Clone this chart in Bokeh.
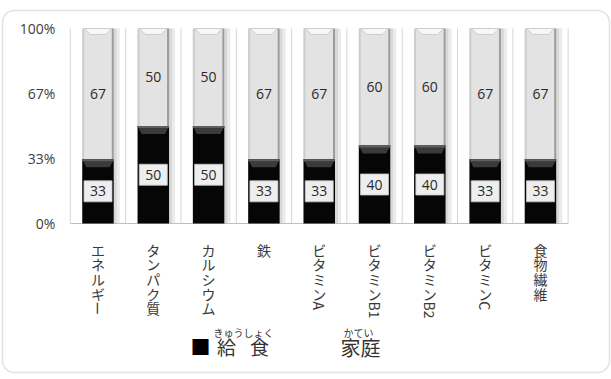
import math
from bokeh.plotting import figure
from bokeh.models import ColumnDataSource, Range1d, BoxAnnotation
from bokeh.core.properties import value
from bokeh.embed import file_html
from bokeh.resources import INLINE

# ---------------- data ----------------
categories = ["エネルギー", "タンパク質", "カルシウム", "鉄", "ビタミンA",
              "ビタミンB1", "ビタミンB2", "ビタミンC", "食物繊維"]
kyushoku = [33, 50, 50, 33, 33, 40, 40, 33, 33]   # 給食
katei = [67, 50, 50, 67, 67, 60, 60, 67, 67]      # 家庭
y_ticks = [0, 100 / 3, 200 / 3, 100]
y_tick_labels = ["0%", "33%", "67%", "100%"]
series_names = ["給食", "家庭"]
series_ruby = ["きゅうしょく", "かてい"]

# ---------------- layout ----------------
W, H = 611, 379
PX0, PXU = 69.84, 55.31   # pixel of x=0, pixels per category
PY0, PYU = 223.0, 1.95    # pixel of y=0, pixels per percent


def dx(px):
    return (px - PX0) / PXU


def dy(py):
    return (PY0 - py) / PYU


XPX = 1 / PXU   # one pixel in x data units
YPX = 1 / PYU   # one pixel in y data units

p = figure(width=W, height=H, x_range=Range1d(dx(0), dx(W)), y_range=Range1d(dy(H), dy(0)),
           output_backend="svg", toolbar_location=None, min_border=0,
           x_axis_location=None, y_axis_location=None)
p.grid.visible = False
p.outline_line_color = None
p.background_fill_color = "white"
p.border_fill_color = "white"

n = len(categories)
xs = [i + 0.5 for i in range(n)]
tops = [a + b for a, b in zip(kyushoku, katei)]
BW = 0.57

# grid lines
p.segment(x0=list(range(n + 1)), x1=list(range(n + 1)), y0=[0] * (n + 1), y1=[100] * (n + 1),
          line_color="#d6d6d6", line_width=1)
p.segment(x0=[0], x1=[n], y0=[0], y1=[0], line_color="#bfbfbf", line_width=1.2)

L = [x - BW / 2 for x in xs]
R = [x + BW / 2 for x in xs]

# right shadows
p.quad(left=R, right=[r + 3 * XPX for r in R], bottom=[0] * n, top=tops,
       fill_color="#b8b8b8", fill_alpha=0.55, line_color=None)
p.quad(left=[r + 3 * XPX for r in R], right=[r + 6 * XPX for r in R], bottom=[0] * n, top=tops,
       fill_color="#d8d8d8", fill_alpha=0.5, line_color=None)

# 家庭 segment (light)
p.quad(left=L, right=R, bottom=kyushoku, top=tops, fill_color="#e3e3e3", line_color=None)
p.quad(left=L, right=[l + 2 * XPX for l in L], bottom=kyushoku, top=tops,
       fill_color="#cdcdcd", line_color=None)
p.quad(left=[r - 2 * XPX for r in R], right=R, bottom=kyushoku, top=tops,
       fill_color="#9c9c9c", line_color=None)
# concave top of light segment
p.patches(xs=[[l + 2 * XPX, r - 2 * XPX, r - 8 * XPX, l + 8 * XPX] for l, r in zip(L, R)],
          ys=[[t, t, t - 6 * YPX, t - 6 * YPX] for t in tops],
          fill_color="#f7f7f7", line_color="#c4c4c4", line_width=0.8)

# 給食 segment (black)
p.quad(left=L, right=R, bottom=[0] * n, top=kyushoku, fill_color="#060606", line_color=None)
p.patches(xs=[[l, r, r - 4 * XPX, l + 4 * XPX] for l, r in zip(L, R)],
          ys=[[k, k, k - 8 * YPX, k - 8 * YPX] for k in kyushoku],
          fill_color="#3a3a3a", line_color=None)
p.quad(left=L, right=R, bottom=[k - 2 * YPX for k in kyushoku], top=kyushoku,
       fill_color="#5e5e5e", line_color=None)

# value labels
p.text(x=xs, y=[(k + t) / 2 for k, t in zip(kyushoku, tops)], text=[str(v) for v in katei],
       text_align="center", text_baseline="middle", text_font=value("Open Sans"),
       text_font_size="14px", text_color="#2a2a2a")
p.rect(x=xs, y=[k / 2 for k in kyushoku], width=28, height=21, width_units="screen",
       height_units="screen", fill_color="#eeeeee", line_color="#c8c8c8", line_width=0.8)
p.text(x=xs, y=[k / 2 for k in kyushoku], text=[str(v) for v in kyushoku],
       text_align="center", text_baseline="middle", text_font=value("Open Sans"),
       text_font_size="14px", text_color="#2a2a2a")

# y tick labels
p.text(x=[0] * len(y_ticks), y=y_ticks, text=y_tick_labels, x_offset=-15,
       text_align="right", text_baseline="middle", text_font=value("Open Sans"),
       text_font_size="14px", text_color="#404040")

# vertical category labels (stacked characters)
cx, cy, ct, ca, cyo = [], [], [], [], []
CH = 14.6
for i, lab in enumerate(categories):
    off = 19.0
    j = 0
    while j < len(lab):
        ch = lab[j]
        if ch.isascii():
            run = ch
            while j + 1 < len(lab) and lab[j + 1].isascii():
                j += 1
                run += lab[j]
            ln = 8.6 * len(run) + 1
            cx.append(xs[i]); cy.append(0); ct.append(run); ca.append(-math.pi / 2)
            cyo.append(off + ln / 2)
            off += ln
        elif ch == "ー":
            cx.append(xs[i]); cy.append(0); ct.append(ch); ca.append(-math.pi / 2)
            cyo.append(off + CH / 2)
            off += CH
        else:
            cx.append(xs[i]); cy.append(0); ct.append(ch); ca.append(0)
            cyo.append(off + CH / 2)
            off += CH
        j += 1
src = ColumnDataSource(dict(x=cx, y=cy, text=ct, angle=ca, yo=cyo))
p.text(x="x", y="y", text="text", angle="angle", y_offset="yo", source=src,
       text_align="center", text_baseline="middle", text_font=value("Noto Sans CJK JP"),
       text_font_size="14px", text_color="#3a3a3a")

# legend
p.text(x=[dx(200)], y=[dy(345.5)], text=["■"], text_align="center", text_baseline="middle",
       text_font=value("Noto Sans CJK JP"), text_font_size="20px", text_color="#000000")
p.text(x=[dx(226), dx(259)], y=[dy(346), dy(346)], text=[series_names[0][0], series_names[0][1]],
       text_align="center", text_baseline="middle", text_font=value("Noto Sans CJK JP"),
       text_font_size="19px", text_color="#333333")
p.text(x=[dx(243)], y=[dy(331.5)], text=[series_ruby[0]], text_align="center",
       text_baseline="middle", text_font=value("Noto Sans CJK JP"), text_font_size="10px",
       text_color="#333333")
p.text(x=[dx(360)], y=[dy(347)], text=[series_names[1]], text_align="center",
       text_baseline="middle", text_font=value("Noto Sans CJK JP"), text_font_size="20px",
       text_color="#333333")
p.text(x=[dx(358)], y=[dy(331.5)], text=[series_ruby[1]], text_align="center",
       text_baseline="middle", text_font=value("Noto Sans CJK JP"), text_font_size="10px",
       text_color="#333333")

# rounded frame
p.add_layout(BoxAnnotation(left=dx(2), right=dx(609), top=dy(10), bottom=dy(372),
                           fill_alpha=0, line_color="#a0a0a0", line_width=1.5,
                           border_radius=12))

open("out.html", "w").write(file_html(p, INLINE))
